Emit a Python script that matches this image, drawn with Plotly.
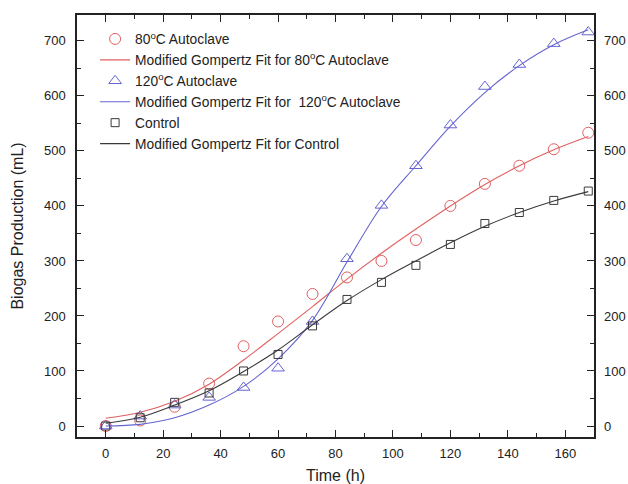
import plotly.graph_objects as go

# Data
time_h = [0, 12, 24, 36, 48, 60, 72, 84, 96, 108, 120, 132, 144, 156, 168]
autoclave80 = [0, 10, 35, 77, 145, 190, 240, 270, 300, 338, 400, 440, 473, 503, 533]
autoclave120 = [0, 18, 38, 52, 70, 105, 190, 304, 401, 473, 547, 617, 657, 695, 716]
control = [0, 15, 43, 60, 100, 130, 182, 230, 261, 292, 330, 368, 388, 410, 427]

fit_time = [0, 12, 24, 36, 48, 60, 72, 84, 96, 108, 120, 132, 144, 156, 168]
fit80 = [14, 25, 45, 76, 120, 168, 217, 267, 314, 358, 400, 439, 473, 502, 526]
fit120 = [0, 3, 15, 38, 72, 122, 192, 298, 399, 473, 545, 606, 655, 693, 720]
fitctrl = [5, 16, 38, 64, 99, 138, 184, 228, 266, 300, 333, 363, 388, 409, 426]

names = [
    "80<sup>o</sup>C Autoclave",
    "Modified Gompertz Fit for 80<sup>o</sup>C Autoclave",
    "120<sup>o</sup>C Autoclave",
    "Modified Gompertz Fit for \u00a0120<sup>o</sup>C Autoclave",
    "Control",
    "Modified Gompertz Fit for Control",
]

red = "#e06060"
blue = "#6464d2"
black = "#3a3a3a"

fig = go.Figure()
fig.add_trace(go.Scatter(x=time_h, y=autoclave80, mode="markers", name=names[0],
                         marker=dict(symbol="circle-open", size=11, color=red, line=dict(width=1))))
fig.add_trace(go.Scatter(x=fit_time, y=fit80, mode="lines", name=names[1], line_shape="spline",
                         line=dict(color=red, width=1.1)))
fig.add_trace(go.Scatter(x=time_h, y=autoclave120, mode="markers", name=names[2],
                         marker=dict(symbol="triangle-up-open", size=11, color=blue, line=dict(width=1))))
fig.add_trace(go.Scatter(x=fit_time, y=fit120, mode="lines", name=names[3], line_shape="spline",
                         line=dict(color=blue, width=1.1)))
fig.add_trace(go.Scatter(x=time_h, y=control, mode="markers", name=names[4],
                         marker=dict(symbol="square-open", size=8, color=black, line=dict(width=1))))
fig.add_trace(go.Scatter(x=fit_time, y=fitctrl, mode="lines", name=names[5], line_shape="spline",
                         line=dict(color=black, width=1.1)))
# invisible trace to anchor right axis
fig.add_trace(go.Scatter(x=[time_h[0]], y=[control[0]], yaxis="y2", mode="markers",
                         marker=dict(opacity=0), showlegend=False, hoverinfo="skip"))

axis_font = dict(family="Arial, Liberation Sans, sans-serif", size=13, color="#222")
yr = [-20, 747]

fig.update_layout(
    width=628, height=484,
    margin=dict(l=77, r=34, t=15, b=47),
    paper_bgcolor="white", plot_bgcolor="white",
    font=dict(family="Arial, Liberation Sans, sans-serif", color="#222"),
    showlegend=True,
    legend=dict(x=0.035, y=0.98, xanchor="left", yanchor="top",
                bgcolor="rgba(0,0,0,0)", font=dict(size=13.8, color="#222"),
                tracegroupgap=0, itemwidth=30),
    xaxis=dict(range=[-10, 170], tickvals=list(range(0, 161, 20)),
               ticks="inside", ticklen=7, tickwidth=1.3, tickcolor="#222",
               minor=dict(dtick=10, tick0=0, ticks="inside", ticklen=4, tickwidth=1.2, tickcolor="#222"),
               showline=True, linewidth=1.5, linecolor="#222", mirror="ticks",
               showgrid=False, zeroline=False, tickfont=axis_font, automargin=False,
               ticklabelstandoff=4,
               title=dict(text="Time (h)", font=dict(size=16, color="#222"), standoff=12)),
    yaxis=dict(range=yr, tickvals=list(range(0, 701, 100)),
               ticks="inside", ticklen=7, tickwidth=1.3, tickcolor="#222",
               minor=dict(dtick=50, tick0=0, ticks="inside", ticklen=4, tickwidth=1.2, tickcolor="#222"),
               showline=True, linewidth=1.5, linecolor="#222", mirror="ticks",
               showgrid=False, zeroline=False, tickfont=axis_font, automargin=False,
               ticklabelstandoff=7,
               title=dict(text="Biogas Production (mL)", font=dict(size=16, color="#222"), standoff=16)),
    yaxis2=dict(range=yr, overlaying="y", side="right", tickvals=list(range(0, 701, 100)),
                ticks="", showline=False, showgrid=False, zeroline=False, tickfont=axis_font,
                automargin=False, ticklabelstandoff=9),
)

fig.write_html("out.html")
